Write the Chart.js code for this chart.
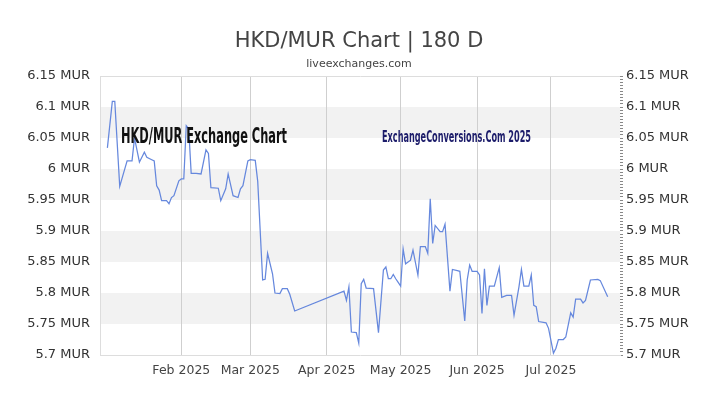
<!DOCTYPE html>
<html>
<head>
<meta charset="utf-8">
<title>HKD/MUR Chart | 180 D</title>
<script src="https://cdn.jsdelivr.net/npm/chart.js@4.4.1/dist/chart.umd.min.js"></script>
<style>
  html, body { margin: 0; padding: 0; background: #fff; }
  #wrap { width: 720px; height: 405px; }
</style>
</head>
<body>
<div id="wrap"><canvas id="chart" width="720" height="405"></canvas></div>
<script>
// HKD -> MUR rates
const dates = [
  '2025-01-02','2025-01-04','2025-01-05','2025-01-07','2025-01-10','2025-01-12','2025-01-13','2025-01-15','2025-01-17','2025-01-18',
  '2025-01-20','2025-01-21','2025-01-22','2025-01-23','2025-01-24','2025-01-26','2025-01-27','2025-01-28','2025-01-29','2025-01-31',
  '2025-02-01','2025-02-02','2025-02-03','2025-02-04','2025-02-05','2025-02-07','2025-02-09','2025-02-11','2025-02-12','2025-02-13',
  '2025-02-16','2025-02-17','2025-02-19','2025-02-20','2025-02-22','2025-02-24','2025-02-25','2025-02-26','2025-02-28',
  '2025-03-01','2025-03-03','2025-03-04','2025-03-06','2025-03-07','2025-03-08','2025-03-10','2025-03-11','2025-03-13','2025-03-14',
  '2025-03-16','2025-03-17','2025-03-19',
  '2025-04-08','2025-04-09','2025-04-10','2025-04-11','2025-04-13','2025-04-14','2025-04-15','2025-04-16','2025-04-17','2025-04-20',
  '2025-04-22','2025-04-24','2025-04-25','2025-04-26','2025-04-27','2025-04-28','2025-04-29','2025-04-30',
  '2025-05-01','2025-05-02','2025-05-03','2025-05-05','2025-05-06','2025-05-08','2025-05-09','2025-05-11','2025-05-12','2025-05-13',
  '2025-05-14','2025-05-15','2025-05-17','2025-05-18','2025-05-19','2025-05-21','2025-05-22','2025-05-24','2025-05-25','2025-05-27',
  '2025-05-28','2025-05-29','2025-05-30',
  '2025-06-01','2025-06-02','2025-06-03','2025-06-04','2025-06-05','2025-06-06','2025-06-08','2025-06-10','2025-06-11','2025-06-13',
  '2025-06-15','2025-06-16','2025-06-18','2025-06-19','2025-06-20','2025-06-22','2025-06-23','2025-06-24','2025-06-25','2025-06-26',
  '2025-06-29','2025-06-30',
  '2025-07-02','2025-07-03','2025-07-04','2025-07-06','2025-07-07','2025-07-09','2025-07-10','2025-07-11','2025-07-13','2025-07-14',
  '2025-07-15','2025-07-17','2025-07-20','2025-07-21','2025-07-24'
];

const rates = [
  6.034, 6.109, 6.109, 5.972, 6.013, 6.013, 6.050, 6.011, 6.027, 6.019,
  6.015, 6.013, 5.973, 5.966, 5.949, 5.949, 5.944, 5.954, 5.957, 5.981,
  5.984, 5.984, 6.070, 6.065, 5.993, 5.993, 5.992, 6.031, 6.025, 5.970,
  5.969, 5.949, 5.968, 5.992, 5.957, 5.954, 5.968, 5.973, 6.013,
  6.015, 6.014, 5.980, 5.821, 5.822, 5.864, 5.831, 5.800, 5.799, 5.807,
  5.807, 5.798, 5.771,
  5.803, 5.788, 5.810, 5.737, 5.736, 5.719, 5.815, 5.822, 5.808, 5.807,
  5.736, 5.837, 5.842, 5.823, 5.823, 5.830, 5.823, 5.817,
  5.811, 5.871, 5.847, 5.853, 5.869, 5.829, 5.875, 5.875, 5.864, 5.952,
  5.880, 5.909, 5.899, 5.899, 5.911, 5.803, 5.838, 5.836, 5.835, 5.755,
  5.821, 5.845, 5.835,
  5.835, 5.829, 5.767, 5.839, 5.780, 5.811, 5.811, 5.841, 5.793, 5.796,
  5.796, 5.764, 5.810, 5.838, 5.811, 5.811, 5.829, 5.780, 5.778, 5.754,
  5.752, 5.743,
  5.703, 5.711, 5.725, 5.725, 5.729, 5.768, 5.761, 5.790, 5.790, 5.784,
  5.788, 5.821, 5.822, 5.820, 5.794
];

const monthTicks = ['2025-02-01', '2025-03-01', '2025-04-01', '2025-05-01', '2025-06-01', '2025-07-01'];
const monthLabels = ['Feb 2025', 'Mar 2025', 'Apr 2025', 'May 2025', 'Jun 2025', 'Jul 2025'];

const xStart = '2024-12-30';
const xEnd = '2025-07-29';
const yMin = 5.7;
const yMax = 6.15;
const yStep = 0.05;
const yMinorStep = 0.005;
const shadedBands = [[5.75, 5.8], [5.85, 5.9], [5.95, 6.0], [6.05, 6.1]];

// day number counted from 1 Jan 2025
function dayNo(s) {
  const p = s.split('-');
  return (Date.UTC(+p[0], +p[1] - 1, +p[2]) - Date.UTC(2025, 0, 1)) / 86400000;
}

function mur(v) {
  return parseFloat(v.toFixed(2)) + ' MUR';
}

function stepTicks(step) {
  const n = Math.round((yMax - yMin) / step);
  const out = [];
  for (let i = 0; i <= n; i++) out.push({ value: +(yMin + i * step).toFixed(3) });
  return out;
}

const points = dates.map((d, i) => ({ x: dayNo(d), y: rates[i] }));

Chart.defaults.font.family = '"DejaVu Sans", sans-serif';
Chart.defaults.color = '#333';

const bandsPlugin = {
  id: 'bands',
  beforeDraw(chart) {
    const { ctx, chartArea, scales } = chart;
    ctx.save();
    ctx.fillStyle = '#f2f2f2';
    shadedBands.forEach(b => {
      const top = scales.y.getPixelForValue(b[1]);
      const bottom = scales.y.getPixelForValue(b[0]);
      ctx.fillRect(chartArea.left, top, chartArea.right - chartArea.left, bottom - top);
    });
    ctx.restore();
  }
};

function squeezedText(ctx, text, x, y, width, font, color) {
  ctx.save();
  ctx.font = font;
  ctx.fillStyle = color;
  ctx.textBaseline = 'alphabetic';
  const w = ctx.measureText(text).width;
  ctx.translate(x, y);
  ctx.scale(width / w, 1);
  ctx.fillText(text, 0, 0);
  ctx.restore();
}

const textPlugin = {
  id: 'texts',
  afterDraw(chart) {
    const ctx = chart.ctx;
    ctx.save();
    ctx.textAlign = 'center';
    ctx.textBaseline = 'alphabetic';
    ctx.fillStyle = '#444';
    ctx.font = '21px "DejaVu Sans"';
    ctx.fillText('HKD/MUR Chart | 180 D', 359, 47);
    ctx.fillStyle = '#444';
    ctx.font = '11px "DejaVu Sans"';
    ctx.fillText('liveexchanges.com', 359, 67);
    ctx.restore();

    squeezedText(ctx, 'HKD/MUR Exchange Chart', 121, 143, 166,
      'bold 22px "Liberation Sans Narrow", "DejaVu Sans Condensed", sans-serif', '#111');
    squeezedText(ctx, 'ExchangeConversions.Com 2025', 382, 141.5, 149,
      'bold 15px "Liberation Sans Narrow", "DejaVu Sans Condensed", sans-serif', '#1c1c6a');
  }
};

new Chart(document.getElementById('chart'), {
  type: 'line',
  data: {
    datasets: [{
      label: 'HKD/MUR',
      data: points,
      borderColor: '#6688dd',
      borderWidth: 1.25,
      pointRadius: 0,
      tension: 0,
      fill: false
    }]
  },
  options: {
    responsive: false,
    animation: false,
    devicePixelRatio: 1,
    layout: { padding: { top: 76, left: 0, right: 0, bottom: 0 } },
    plugins: {
      legend: { display: false },
      tooltip: { enabled: false }
    },
    scales: {
      x: {
        type: 'linear',
        min: dayNo(xStart),
        max: dayNo(xEnd),
        afterBuildTicks(scale) {
          scale.ticks = monthTicks.map(d => ({ value: dayNo(d) }));
        },
        afterFit(scale) {
          scale.height = 50;
          scale.paddingLeft = 0;
          scale.paddingRight = 0;
        },
        grid: { color: '#cfcfcf', drawTicks: false },
        border: { color: '#dddddd' },
        ticks: {
          autoSkip: false,
          maxRotation: 0,
          padding: 8,
          font: { size: 12.5 },
          color: '#444',
          callback(v) {
            const i = monthTicks.findIndex(d => dayNo(d) === v);
            return i >= 0 ? monthLabels[i] : '';
          }
        }
      },
      y: {
        position: 'left',
        min: yMin,
        max: yMax,
        afterBuildTicks(scale) {
          scale.ticks = stepTicks(yStep);
        },
        afterFit(scale) {
          scale.width = 100;
          scale.paddingTop = 0;
          scale.paddingBottom = 0;
        },
        grid: {
          drawTicks: false,
          color(c) { return c.tick && Math.abs(c.tick.value - yMax) < 1e-6 ? '#dddddd' : 'rgba(0,0,0,0)'; }
        },
        border: { color: '#dddddd' },
        ticks: { padding: 10, font: { size: 13 }, color: '#333', callback: v => mur(v) }
      },
      y2: {
        position: 'right',
        min: yMin,
        max: yMax,
        afterBuildTicks(scale) {
          scale.ticks = stepTicks(yMinorStep);
        },
        afterFit(scale) {
          scale.width = 100;
          scale.paddingTop = 0;
          scale.paddingBottom = 0;
        },
        grid: { drawOnChartArea: false, tickLength: 3, color: '#888' },
        border: { display: false },
        ticks: {
          autoSkip: false,
          padding: 3,
          font: { size: 13 },
          color: '#333',
          callback(v) {
            return Math.round(v * 1000) % 50 === 0 ? mur(v) : '';
          }
        }
      }
    }
  },
  plugins: [bandsPlugin, textPlugin]
});
</script>
</body>
</html>
